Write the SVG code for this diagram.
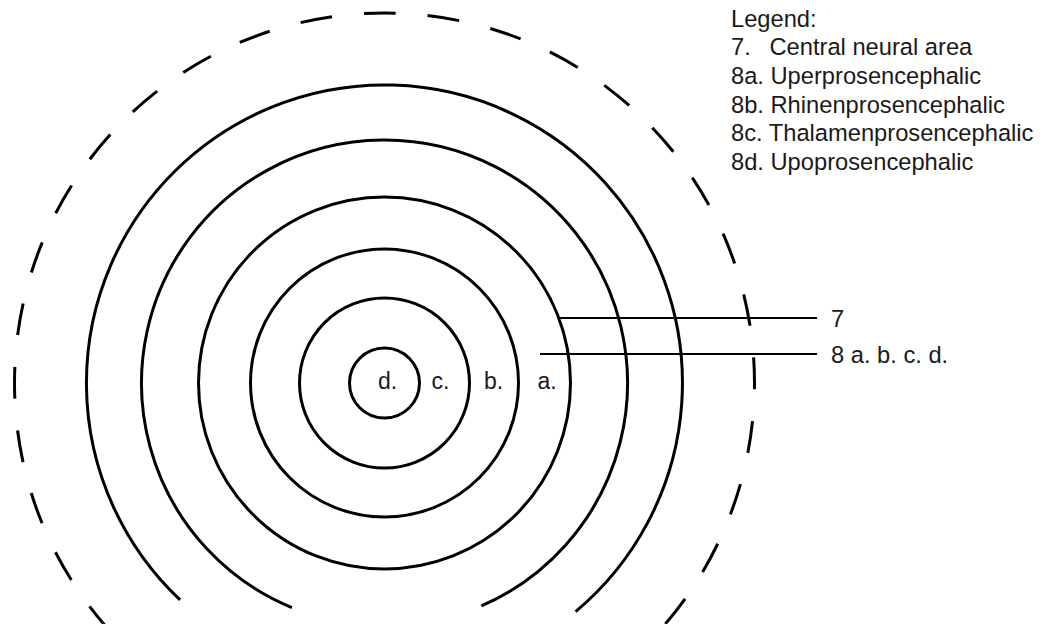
<svg xmlns="http://www.w3.org/2000/svg" width="1044" height="624" viewBox="0 0 1044 624">
  <style>
    .ring { fill: none; stroke: #000; stroke-width: 3; }
    .dash { fill: none; stroke: #000; stroke-width: 3; stroke-dasharray: 32 32; stroke-dashoffset: 10.8; }
    .leader { stroke: #000; stroke-width: 2; fill: none; }
    .t { font-family: "Liberation Sans", Arial, sans-serif; font-size: 23.7px; fill: #1a1a1a; }
    .c { font-family: "Liberation Sans", Arial, sans-serif; font-size: 23px; fill: #1a1a1a; }
  </style>
  <rect width="1044" height="624" fill="#fff"/>

  <g id="outer-dashed">
    <path class="dash" d="M 384.5 753 A 370 370 0 1 1 384.5 13 A 370 370 0 1 1 384.5 753"/>
  </g>
  <g id="ring-f">
    <path class="ring" d="M 180.1 599.9 A 298 298 0 1 1 575.6 611.6"/>
  </g>
  <g id="ring-e">
    <path class="ring" d="M 291.9 607.7 A 243 243 0 1 1 481.4 605.9"/>
  </g>
  <g id="ring-a">
    <circle class="ring" cx="384.5" cy="383" r="186"/>
    <text class="c" x="537.5" y="389">a.</text>
  </g>
  <g id="ring-b">
    <circle class="ring" cx="384.5" cy="383" r="134"/>
    <text class="c" x="484" y="389">b.</text>
  </g>
  <g id="ring-c">
    <circle class="ring" cx="384.5" cy="383" r="85"/>
    <text class="c" x="431.5" y="389">c.</text>
  </g>
  <g id="ring-d">
    <circle class="ring" cx="384.5" cy="383" r="35"/>
    <text class="c" x="378" y="389">d.</text>
  </g>

  <g id="connectors">
    <line class="leader" x1="560" y1="318" x2="817" y2="318"/>
    <line class="leader" x1="540" y1="354" x2="817" y2="354"/>
  </g>

  <g id="label-7">
    <text class="t" x="831" y="326.5">7</text>
  </g>
  <g id="label-8">
    <text class="t" x="831" y="363">8 a. b. c. d.</text>
  </g>

  <g id="legend">
    <text class="t" x="731" y="27">Legend:</text>
    <text class="t" x="731" y="55.4">7.<tspan x="769.5">Central neural area</tspan></text>
    <text class="t" x="731" y="84">8a. Uperprosencephalic</text>
    <text class="t" x="731" y="112.5">8b. Rhinenprosencephalic</text>
    <text class="t" x="731" y="141">8c. Thalamenprosencephalic</text>
    <text class="t" x="731" y="169.6">8d. Upoprosencephalic</text>
  </g>
</svg>
